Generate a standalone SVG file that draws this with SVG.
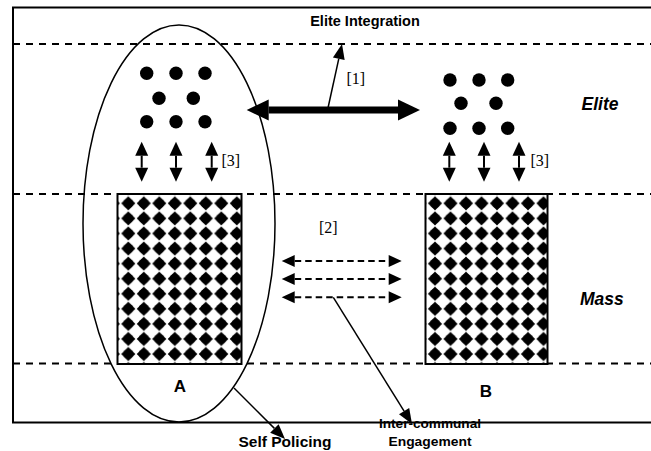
<svg xmlns="http://www.w3.org/2000/svg" width="651" height="451" viewBox="0 0 651 451">
<style>
.frame{fill:none;stroke:#000;stroke-width:2}
.band{fill:none;stroke:#000;stroke-width:1.8;stroke-dasharray:7 6}
.dot{fill:#000}
.mass{stroke:#000;stroke-width:2}
.lbl{font-family:"Liberation Sans",Arial,sans-serif;font-weight:bold;fill:#000}
.tier{font-family:"Liberation Sans",Arial,sans-serif;font-weight:bold;font-style:italic;font-size:17.5px;fill:#000}
.ref{font-family:"Liberation Serif","Times New Roman",serif;font-size:16px;fill:#000}
.thin{fill:none;stroke:#000;stroke-width:1.5}
.dash{fill:none;stroke:#000;stroke-width:2;stroke-dasharray:6.5 4}
.vert{fill:none;stroke:#000;stroke-width:2}
.big{fill:none;stroke:#000;stroke-width:7}
</style>
<defs>
<marker id="ahThin" markerUnits="userSpaceOnUse" markerWidth="15" markerHeight="12" refX="0" refY="6" orient="auto" overflow="visible">
<path d="M0,0 L15,6 L0,12 z" fill="#000"/>
</marker>
<marker id="ahDash" markerUnits="userSpaceOnUse" markerWidth="13" markerHeight="12" refX="0" refY="6" orient="auto-start-reverse" overflow="visible">
<path d="M0,0 L13,6 L0,12 z" fill="#000"/>
</marker>
<marker id="ahVert" markerUnits="userSpaceOnUse" markerWidth="14" markerHeight="13" refX="0" refY="6.5" orient="auto-start-reverse" overflow="visible">
<path d="M0,0 L14,6.5 L0,13 z" fill="#000"/>
</marker>
<marker id="ahBig" markerUnits="userSpaceOnUse" markerWidth="22" markerHeight="21" refX="0" refY="10.5" orient="auto-start-reverse" overflow="visible">
<path d="M0,0 L22,10.5 L0,21 z" fill="#000"/>
</marker>
<g id="cell">
<path d="M7.75,0.5 L14.8,7.53 L7.75,14.6 L0.7,7.53 z" fill="#000"/>
<circle cx="7.75" cy="7.53" r="5.1" fill="#000"/>
</g>
<pattern id="patA" patternUnits="userSpaceOnUse" x="120.55" y="195.8" width="15.5" height="15.07">
<use href="#cell"/>
</pattern>
<pattern id="patB" patternUnits="userSpaceOnUse" x="427.25" y="195.8" width="15.5" height="15.07">
<use href="#cell"/>
</pattern>
</defs>

<g id="background">
<rect x="13" y="7.5" width="650" height="415" class="frame"/>
<line x1="13" y1="44" x2="651" y2="44" class="band"/>
<line x1="13" y1="194" x2="651" y2="194" class="band"/>
<line x1="13" y1="363.5" x2="651" y2="363.5" class="band"/>
</g>

<g id="eliteA">
<circle cx="146.7" cy="73.3" r="6.7" class="dot"/>
<circle cx="176" cy="73.3" r="6.7" class="dot"/>
<circle cx="205" cy="73.3" r="6.7" class="dot"/>
<circle cx="159" cy="98.3" r="6.7" class="dot"/>
<circle cx="193.3" cy="98.3" r="6.7" class="dot"/>
<circle cx="146.7" cy="121.7" r="6.7" class="dot"/>
<circle cx="176" cy="121.7" r="6.7" class="dot"/>
<circle cx="205" cy="121.7" r="6.7" class="dot"/>
</g>

<g id="eliteB">
<circle cx="450" cy="80" r="6.7" class="dot"/>
<circle cx="479" cy="80" r="6.7" class="dot"/>
<circle cx="507.7" cy="80" r="6.7" class="dot"/>
<circle cx="461" cy="103.3" r="6.7" class="dot"/>
<circle cx="496" cy="103.3" r="6.7" class="dot"/>
<circle cx="450" cy="128.3" r="6.7" class="dot"/>
<circle cx="479" cy="128.3" r="6.7" class="dot"/>
<circle cx="507.7" cy="128.3" r="6.7" class="dot"/>
</g>

<g id="massA">
<rect x="117.5" y="194" width="124" height="170" fill="#fff"/>
<rect x="117.5" y="194" width="124" height="170" fill="url(#patA)" class="mass"/>
<text x="180" y="392" text-anchor="middle" class="lbl" font-size="17">A</text>
</g>

<g id="massB">
<rect x="425.5" y="194" width="122" height="170" fill="#fff"/>
<rect x="425.5" y="194" width="122" height="170" fill="url(#patB)" class="mass"/>
<text x="486" y="397" text-anchor="middle" class="lbl" font-size="17">B</text>
</g>

<g id="selfPolicingGroup">
<ellipse cx="179" cy="223.5" rx="96" ry="198.5" class="thin"/>
</g>

<g id="labels">
<text x="365" y="26" text-anchor="middle" class="lbl" font-size="14.5">Elite Integration</text>
<text x="581.5" y="110" class="tier">Elite</text>
<text x="580" y="305" class="tier">Mass</text>
<text x="285" y="446.5" text-anchor="middle" class="lbl" font-size="15.5">Self Policing</text>
<text x="430" y="428" text-anchor="middle" class="lbl" font-size="12" textLength="102" lengthAdjust="spacingAndGlyphs">Inter-communal</text>
<text x="430" y="446" text-anchor="middle" class="lbl" font-size="12" textLength="83" lengthAdjust="spacingAndGlyphs">Engagement</text>
<text x="346.5" y="84" class="ref">[1]</text>
<text x="319" y="233" class="ref">[2]</text>
<text x="221.5" y="166" class="ref">[3]</text>
<text x="530.5" y="166" class="ref">[3]</text>
</g>

<g id="connectors">
<line x1="268.7" y1="110" x2="398" y2="110" class="big" marker-start="url(#ahBig)" marker-end="url(#ahBig)"/>
<line x1="328" y1="108" x2="338.8" y2="58.7" class="thin" marker-end="url(#ahThin)"/>
<line x1="141.7" y1="155.7" x2="141.7" y2="167.7" class="vert" marker-start="url(#ahVert)" marker-end="url(#ahVert)"/>
<line x1="176" y1="155.7" x2="176" y2="167.7" class="vert" marker-start="url(#ahVert)" marker-end="url(#ahVert)"/>
<line x1="211.7" y1="155.7" x2="211.7" y2="167.7" class="vert" marker-start="url(#ahVert)" marker-end="url(#ahVert)"/>
<line x1="449.3" y1="155.7" x2="449.3" y2="167.7" class="vert" marker-start="url(#ahVert)" marker-end="url(#ahVert)"/>
<line x1="484" y1="155.7" x2="484" y2="167.7" class="vert" marker-start="url(#ahVert)" marker-end="url(#ahVert)"/>
<line x1="519" y1="155.7" x2="519" y2="167.7" class="vert" marker-start="url(#ahVert)" marker-end="url(#ahVert)"/>
<line x1="294.7" y1="261" x2="388.7" y2="261" class="dash" marker-start="url(#ahDash)" marker-end="url(#ahDash)"/>
<line x1="294.7" y1="279" x2="388.7" y2="279" class="dash" marker-start="url(#ahDash)" marker-end="url(#ahDash)"/>
<line x1="294.7" y1="297.3" x2="388.7" y2="297.3" class="dash" marker-start="url(#ahDash)" marker-end="url(#ahDash)"/>
<line x1="333.3" y1="297.3" x2="404.1" y2="411.2" class="thin" marker-end="url(#ahThin)"/>
<line x1="234" y1="388" x2="274.4" y2="428.4" class="thin" marker-end="url(#ahThin)"/>
</g>
</svg>
